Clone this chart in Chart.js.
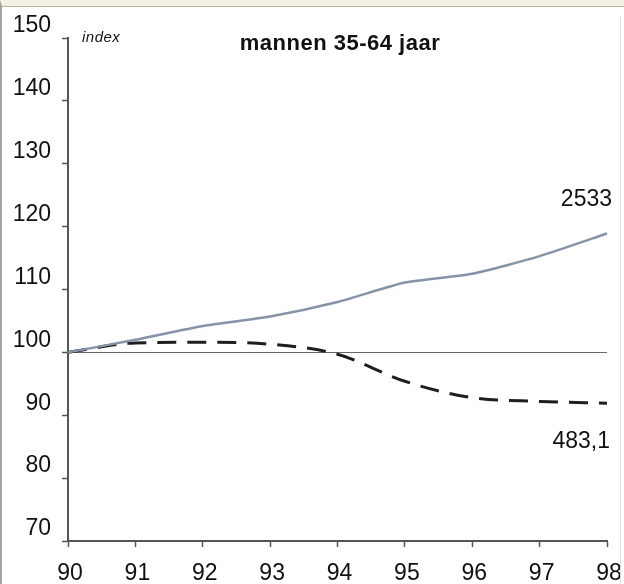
<!DOCTYPE html>
<html>
<head>
<meta charset="utf-8">
<script src="https://cdn.jsdelivr.net/npm/chart.js@4.4.1/dist/chart.umd.min.js"></script>
<style>
  html, body { margin: 0; padding: 0; background: #fff; }
  #wrap {
    position: relative; width: 624px; height: 584px; box-sizing: border-box;
    border-top: 6px solid #f4f2e4; border-left: 2px solid #a8a69a;
  }
  #wrap:before {
    content: ""; position: absolute; left: 0; right: 0; top: 0; height: 1px; background: #b9b6a2;
  }
  #wrap:after {
    content: ""; position: absolute; right: 3px; top: 10px; bottom: 0; width: 1px; background: #ddd;
  }
  canvas { position: absolute; left: -2px; top: -6px; }
</style>
</head>
<body>
<div id="wrap"><canvas id="myChart" width="624" height="584"></canvas></div>
<script>
"use strict";

var years = ["90", "91", "92", "93", "94", "95", "96", "97", "98"];
var totaal = [100, 102, 104.2, 105.7, 108, 111.1, 112.5, 115.3, 118.9];
var sterfte = [100, 101.5, 101.6, 101.3, 99.7, 95.4, 92.8, 92.2, 91.9];
var yTicks = [70, 80, 90, 100, 110, 120, 130, 140, 150];
var endLabels = ["2533", "483,1"];

var font = "'Liberation Sans', Arial, sans-serif";

// titles and end labels
var textPlugin = {
    id: "texts",
    afterDraw: function(chart) {
        var c = chart.ctx;
        var x = chart.scales.x, y = chart.scales.y;
        c.save();
        c.fillStyle = "#111";
        c.textBaseline = "middle";
        c.textAlign = "left";
        c.letterSpacing = "0.5px";
        c.font = "italic 15px " + font;
        c.fillText("index", 82, 38);
        c.textAlign = "center";
        c.font = "bold 22px " + font;
        c.fillText("mannen 35-64 jaar", 340, 44);
        c.letterSpacing = "0px";
        c.font = "23px " + font;
        var last = years.length - 1;
        c.textAlign = "right";
        c.fillText(endLabels[0], x.getPixelForValue(last) + 5, y.getPixelForValue(totaal[last]) - 34);
        c.fillText(endLabels[1], x.getPixelForValue(last) + 3, y.getPixelForValue(sterfte[last]) + 38);
        c.restore();
    }
};

var ctx = document.getElementById("myChart");
var myChart = new Chart(ctx, {
    type: "line",
    data: {
        labels: years,
        datasets: [
            {
                label: "totaal",
                data: totaal,
                borderColor: "#8693a6",
                borderWidth: 2.5,
                pointRadius: 0,
                tension: 0.2
            },
            {
                label: "sterfte",
                data: sterfte,
                borderColor: "#1e1e1e",
                borderWidth: 3,
                borderDash: [19, 11],
                pointRadius: 0,
                cubicInterpolationMode: "monotone"
            }
        ]
    },
    options: {
        responsive: false,
        animation: false,
        layout: { padding: { top: 38, right: 17, left: 0, bottom: 0 } },
        plugins: { legend: { display: false }, tooltip: { enabled: false } },
        scales: {
            x: {
                offset: false,
                grid: { drawOnChartArea: false, tickLength: 6, tickColor: "#555", tickWidth: 1.5 },
                border: { color: "#555", width: 2 },
                ticks: { color: "#111", font: { family: font, size: 23 }, padding: 13, maxRotation: 0, labelOffset: 2 },
                afterFit: function(s) { s.height = 43; s.paddingLeft = 0; s.paddingRight = 0; }
            },
            y: {
                min: 70,
                max: 150,
                afterBuildTicks: function(s) { s.ticks = yTicks.map(function(v) { return { value: v }; }); },
                grid: {
                    color: function(c) { return c.tick && c.tick.value === 100 ? "#666" : "rgba(0,0,0,0)"; },
                    lineWidth: 1,
                    tickLength: 6,
                    tickColor: "#555",
                    tickWidth: 1.5
                },
                border: { color: "#555", width: 2 },
                ticks: { color: "#111", font: { family: font, size: 23 }, padding: 11, labelOffset: -12 },
                afterFit: function(s) { s.width = 68; s.paddingTop = 0; s.paddingBottom = 0; }
            }
        }
    },
    plugins: [textPlugin]
});
</script>
</body>
</html>
